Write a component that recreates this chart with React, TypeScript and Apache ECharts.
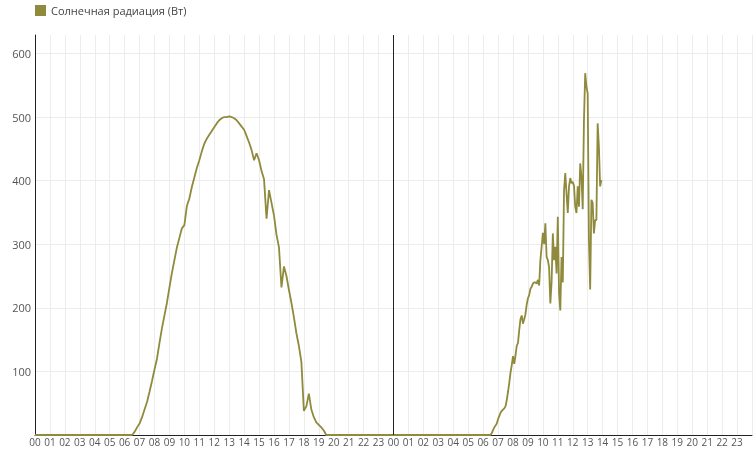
import React, { useEffect, useRef } from "react";
import * as echarts from "echarts";

const seriesName = "Солнечная радиация (Вт)";
const lineColor = "#8f8a3c";

// Day 1: values every 10 minutes starting at 06:30
const day1Start = 6.5;
const day1StepMin = 10;
const day1Values = [
  0, 5, 12, 18, 28, 40, 52, 68, 85, 103, 120, 145, 168, 188, 208, 232, 255, 275, 295, 310,
  325, 330, 360, 372, 390, 405, 420, 432, 446, 458, 466, 472, 478, 484, 490, 495, 498, 500,
  500, 501, 500, 498, 495, 490, 485, 480, 470, 460, 448, 432, 443, 432, 415, 402, 340, 385,
  365, 345, 315, 295, 232, 265, 250, 228, 208, 185, 160, 140, 115, 38, 45, 65, 40, 28, 20,
  16, 12, 7, 0,
];

// Day 2: values every 5 minutes starting at 06:30
const day2Start = 6.5;
const day2StepMin = 5;
const day2Values = [
  0, 3, 8, 12, 15, 18, 25, 30, 35, 38, 40, 42, 45, 55, 68, 82, 98, 110, 124, 112, 125, 140,
  145, 165, 182, 188, 175, 182, 190, 205, 215, 220, 230, 233, 238, 240, 240, 238, 244, 235,
  275, 296, 318, 300, 333, 280, 275, 264, 207, 240, 317, 275, 296, 254, 343, 223, 196, 280,
  240, 385, 412, 380, 349, 391, 404, 396, 398, 392, 359, 349, 391, 359, 427, 406, 355, 494,
  569, 548, 537, 307, 229, 370, 365, 317, 338, 338, 490, 454, 391, 401,
];

const hourLabels = [
  "00", "01", "02", "03", "04", "05", "06", "07", "08", "09", "10", "11",
  "12", "13", "14", "15", "16", "17", "18", "19", "20", "21", "22", "23",
];
const yTicks = [100, 200, 300, 400, 500, 600];

function buildData(): [number, number][] {
  const pts: [number, number][] = [[0, 0]];
  day1Values.forEach((v, i) => pts.push([day1Start + (i * day1StepMin) / 60, v]));
  pts.push([24 + day2Start - 0.01, 0]);
  day2Values.forEach((v, i) => pts.push([24 + day2Start + (i * day2StepMin) / 60, v]));
  return pts;
}

export default function App() {
  const ref = useRef<HTMLDivElement>(null);
  useEffect(() => {
    if (!ref.current) return;
    const chart = echarts.init(ref.current, null, { renderer: "svg" });
    const font = "'Open Sans', sans-serif";
    chart.setOption({
      animation: false,
      textStyle: { fontFamily: font },
      legend: {
        left: 35,
        top: 5,
        padding: 0,
        icon: "rect",
        itemWidth: 11,
        itemHeight: 11,
        itemGap: 10,
        textStyle: { fontSize: 11, color: "#444", fontFamily: font },
        data: [seriesName],
      },
      grid: { left: 35, right: 0, top: 35, bottom: 16, containLabel: false },
      xAxis: {
        type: "value",
        min: 0,
        max: 48,
        interval: 1,
        axisLine: { show: true, lineStyle: { color: "#222", width: 1 } },
        axisTick: { show: false },
        splitLine: { show: true, lineStyle: { color: "#ececec", width: 1 } },
        axisLabel: {
          margin: 2,
          fontSize: 10,
          color: "#555",
          fontFamily: font,
          hideOverlap: false,
          formatter: (v: number) => (v >= 48 ? "" : hourLabels[Math.round(v) % 24]),
        },
      },
      yAxis: {
        type: "value",
        min: 0,
        max: 629,
        interval: 100,
        axisLine: { show: true, lineStyle: { color: "#222", width: 1 } },
        axisTick: { show: false },
        splitLine: { show: true, showMaxLine: false, lineStyle: { color: "#ececec", width: 1 } },
        axisLabel: {
          margin: 4,
          fontSize: 11,
          color: "#555",
          fontFamily: font,
          formatter: (v: number) => (yTicks.includes(v) ? String(v) : ""),
        },
      },
      series: [
        {
          name: seriesName,
          type: "line",
          showSymbol: false,
          symbol: "none",
          color: lineColor,
          lineStyle: { color: lineColor, width: 1.8 },
          data: buildData(),
          markLine: {
            silent: true,
            symbol: "none",
            label: { show: false },
            lineStyle: { color: "#222", width: 1, type: "solid" },
            data: [{ xAxis: 24 }],
          },
        },
      ],
    });
    return () => chart.dispose();
  }, []);
  return (
    <div
      ref={ref}
      style={{ position: "fixed", left: 0, top: 0, width: 755, height: 451 }}
    />
  );
}
